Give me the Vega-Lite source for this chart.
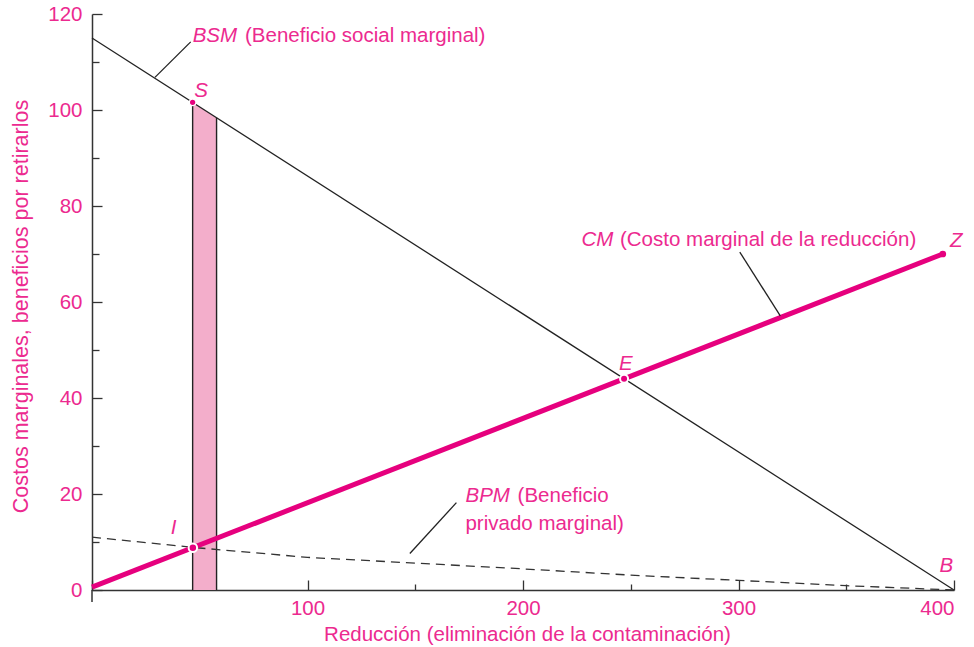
{
  "$schema": "https://vega.github.io/schema/vega-lite/v6.json",
  "width": 862,
  "height": 576,
  "autosize": {"type": "none"},
  "padding": {"left": 92, "top": 14, "right": 20, "bottom": 57},
  "background": "white",
  "config": {
    "view": {"stroke": null},
    "font": "Liberation Sans",
    "axis": {"grid": false}
  },
  "datasets": {
    "bsm": [{"x": 0, "y": 115}, {"x": 400, "y": 0}],
    "cm": [{"x": 0, "y": 0.6}, {"x": 394.8, "y": 70}],
    "bpm": [
      {"x": 0, "y": 11}, {"x": 50, "y": 8.75}, {"x": 100, "y": 6.8},
      {"x": 150, "y": 5.6}, {"x": 200, "y": 4.4}, {"x": 250, "y": 3.1},
      {"x": 300, "y": 2.0}, {"x": 350, "y": 0.9}, {"x": 400, "y": 0}
    ],
    "band": [{"x": 46.7, "y": 101.6}, {"x": 57.8, "y": 98.4}],
    "dots": [
      {"name": "S", "x": 46.7, "y": 101.6, "size": 42, "ring": 1.2},
      {"name": "E", "x": 246.9, "y": 44, "size": 64, "ring": 2},
      {"name": "I", "x": 46.8, "y": 8.8, "size": 72, "ring": 2},
      {"name": "Z", "x": 394.8, "y": 70, "size": 45, "ring": 0}
    ],
    "leaders": [
      {"x": 29.2, "y": 106.8, "x2": 45.8, "y2": 114.2},
      {"x": 300.6, "y": 70.4, "x2": 319.4, "y2": 57.1},
      {"x": 169.1, "y": 18.2, "x2": 147.5, "y2": 7.6}
    ],
    "italic": [
      {"t": "BSM", "x": 46.7, "y": 114.2},
      {"t": "CM", "x": 227.1, "y": 71.7},
      {"t": "BPM", "x": 173.3, "y": 18.3},
      {"t": "S", "x": 47.4, "y": 102.8},
      {"t": "E", "x": 244.6, "y": 45.8},
      {"t": "I", "x": 36.6, "y": 11.7},
      {"t": "Z", "x": 398.2, "y": 71.5},
      {"t": "B", "x": 393.3, "y": 3.7}
    ],
    "plain": [
      {"t": "(Beneficio social marginal)", "x": 71.0, "y": 114.2},
      {"t": "(Costo marginal de la reducción)", "x": 245.0, "y": 71.7},
      {"t": "(Beneficio", "x": 197.5, "y": 18.3},
      {"t": "privado marginal)", "x": 173.3, "y": 12.5}
    ]
  },
  "layer": [
    {
      "data": {"name": "band"},
      "mark": {"type": "area", "color": "#f3aecb", "clip": false},
      "encoding": {
        "x": {
          "field": "x", "type": "quantitative",
          "scale": {"domain": [0, 400], "nice": false, "zero": false},
          "axis": {
            "values": [0, 50, 100, 150, 200, 250, 300, 350, 400],
            "labelExpr": "datum.value > 0 && datum.value % 100 === 0 ? datum.label : ''",
            "tickSize": {"condition": {"test": "datum.value % 100 === 0", "value": -10}, "value": -6},
            "tickColor": "#333",
            "tickWidth": 1.3,
            "domainColor": "#333",
            "domainWidth": 1.5,
            "labelColor": "#ec2a8f",
            "labelFontSize": 20.5,
            "labelPadding": 18,
            "labelFont": "Liberation Sans",
            "title": "Reducción (eliminación de la contaminación)",
            "titleColor": "#ec2a8f",
            "titleFontSize": 20.5,
            "titleFontWeight": "normal",
            "titleFont": "Liberation Sans",
            "titleX": 435,
            "titleY": 50,
            "titleBaseline": "alphabetic",
            "titleAlign": "center"
          }
        },
        "y": {
          "field": "y", "type": "quantitative",
          "scale": {"domain": [0, 120], "nice": false},
          "axis": {
            "values": [0, 10, 20, 30, 40, 50, 60, 70, 80, 90, 100, 110, 120],
            "labelExpr": "datum.value % 20 === 0 ? datum.label : ''",
            "tickSize": {"condition": {"test": "datum.value % 20 === 0", "value": -10}, "value": -7},
            "tickColor": "#333",
            "tickWidth": 1.3,
            "domainColor": "#333",
            "domainWidth": 1.5,
            "labelColor": "#ec2a8f",
            "labelFontSize": 20.5,
            "labelPadding": 20,
            "labelFont": "Liberation Sans",
            "labelBaseline": "middle",
            "title": "Costos marginales, beneficios por retirarlos",
            "titleColor": "#ec2a8f",
            "titleFontSize": 21.5,
            "titleFontWeight": "normal",
            "titleFont": "Liberation Sans",
            "titleX": -65,
            "titleY": 292,
            "titleAngle": -90,
            "titleBaseline": "alphabetic",
            "titleAlign": "center"
          }
        },
        "y2": {"datum": 0}
      }
    },
    {
      "data": {"name": "band"},
      "mark": {"type": "rule", "color": "#222", "strokeWidth": 1.4},
      "encoding": {
        "x": {"field": "x", "type": "quantitative"},
        "y": {"field": "y", "type": "quantitative"},
        "y2": {"datum": 0}
      }
    },
    {
      "data": {"values": [{"x": 0, "y": 0, "y2": -2.5}]},
      "mark": {"type": "rule", "color": "#333", "strokeWidth": 1.5, "clip": false},
      "encoding": {
        "x": {"field": "x", "type": "quantitative"},
        "y": {"field": "y", "type": "quantitative"},
        "y2": {"field": "y2"}
      }
    },
    {
      "data": {"name": "bsm"},
      "mark": {"type": "line", "color": "#222", "strokeWidth": 1.3},
      "encoding": {
        "x": {"field": "x", "type": "quantitative"},
        "y": {"field": "y", "type": "quantitative"}
      }
    },
    {
      "data": {"name": "bpm"},
      "mark": {"type": "line", "color": "#333", "strokeWidth": 1.3, "strokeDash": [9, 6]},
      "encoding": {
        "x": {"field": "x", "type": "quantitative"},
        "y": {"field": "y", "type": "quantitative"}
      }
    },
    {
      "data": {"name": "cm"},
      "mark": {"type": "line", "color": "#e6007e", "strokeWidth": 5},
      "encoding": {
        "x": {"field": "x", "type": "quantitative"},
        "y": {"field": "y", "type": "quantitative"}
      }
    },
    {
      "data": {"name": "leaders"},
      "mark": {"type": "rule", "color": "#222", "strokeWidth": 1.3},
      "encoding": {
        "x": {"field": "x", "type": "quantitative"},
        "y": {"field": "y", "type": "quantitative"},
        "x2": {"field": "x2"},
        "y2": {"field": "y2"}
      }
    },
    {
      "data": {"name": "dots"},
      "mark": {"type": "point", "filled": true, "color": "#e6007e", "stroke": "white", "opacity": 1, "clip": false},
      "encoding": {
        "x": {"field": "x", "type": "quantitative"},
        "y": {"field": "y", "type": "quantitative"},
        "size": {"field": "size", "type": "quantitative", "scale": null},
        "strokeWidth": {"field": "ring", "type": "quantitative", "scale": null}
      }
    },
    {
      "data": {"name": "italic"},
      "mark": {"type": "text", "align": "left", "baseline": "alphabetic", "fontStyle": "italic", "font": "Liberation Sans", "fontSize": 20.5, "color": "#ec2a8f", "clip": false},
      "encoding": {
        "x": {"field": "x", "type": "quantitative"},
        "y": {"field": "y", "type": "quantitative"},
        "text": {"field": "t"}
      }
    },
    {
      "data": {"name": "plain"},
      "mark": {"type": "text", "align": "left", "baseline": "alphabetic", "font": "Liberation Sans", "fontSize": 20.5, "color": "#ec2a8f", "clip": false},
      "encoding": {
        "x": {"field": "x", "type": "quantitative"},
        "y": {"field": "y", "type": "quantitative"},
        "text": {"field": "t"}
      }
    }
  ]
}
